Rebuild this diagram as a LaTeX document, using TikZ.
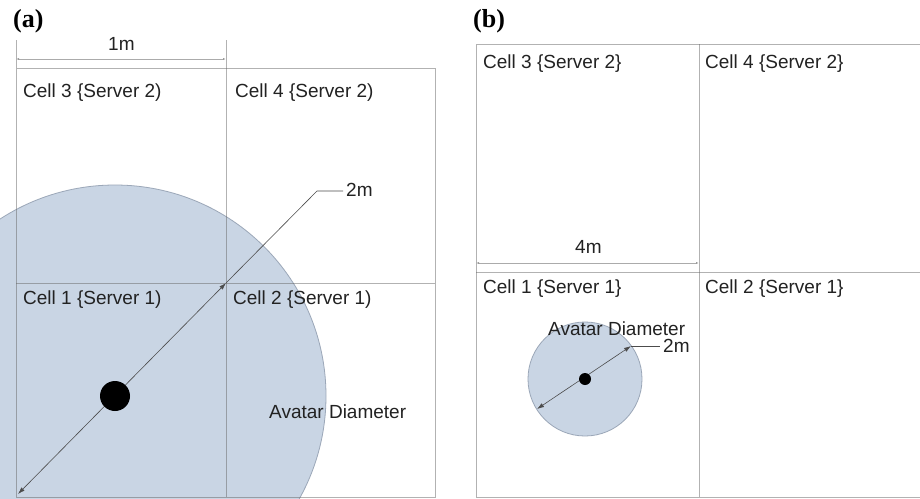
\documentclass[tikz,border=0pt]{standalone}
\usepackage{fontspec}
\setmainfont{Liberation Sans}
\newfontfamily\panelfont{Liberation Serif}
\usetikzlibrary{arrows.meta}
\definecolor{avfill}{HTML}{C9D5E4}
\definecolor{avedge}{HTML}{9BA7B8}
\definecolor{txt}{HTML}{222222}
\begin{document}
\begin{tikzpicture}[x=1pt,y=-1pt,
  grid/.style={draw=black!60, draw opacity=0.5, line width=0.9pt},
  dimline/.style={draw=black!60, draw opacity=0.55, line width=0.8pt, {Latex[length=3pt,width=2pt]}-{Latex[length=3pt,width=2pt]}},
  diam/.style={draw=black!70, line width=0.6pt, {Latex[length=7pt,width=4.5pt]}-{Latex[length=7pt,width=4.5pt]}},
  leader/.style={draw=black!70, line width=0.6pt},
  avatar/.style={fill=avfill, draw=avedge, line width=0.8pt},
  lbl/.style={anchor=base west, inner sep=0pt, text=txt, font=\fontsize{19}{22}\selectfont},
  panel/.style={anchor=base west, inner sep=0pt, text=black, font=\panelfont\bfseries\fontsize{26}{30}\selectfont}]
\useasboundingbox (0,0) rectangle (920,498);
\clip (0,0) rectangle (920,498);
\fill[white] (0,0) rectangle (920,498);

% ---------------- panel (a) ----------------
\node[panel] (pa) at (13,27) {(a)};
\draw[avatar] (115,396) circle[radius=211];
\draw[grid] (16,68) rectangle (435,497);
\draw[grid] (226,40) -- (226,497);
\draw[grid] (16,40) -- (16,68);
\draw[grid] (16,283) -- (435,283);
\coordinate (aL) at (16,59);
\coordinate (aR) at (226,59);
\draw[dimline] (aL) -- (aR);
\node[lbl] (a1m) at (108,50) {1m};
\node[lbl] (c3a) at (23,97) {Cell 3 \{Server 2)};
\node[lbl] (c4a) at (235,97) {Cell 4 \{Server 2)};
\node[lbl] (c1a) at (23,304) {Cell 1 \{Server 1)};
\node[lbl] (c2a) at (233,304) {Cell 2 \{Server 1)};
\coordinate (da1) at (18,494);
\coordinate (da2) at (226,283);
\coordinate (la1) at (317,191);
\coordinate (la2) at (343,191);
\draw[diam] (da1) -- (da2);
\draw[leader] (da2) -- (la1) -- (la2);
\fill[black] (115,396) circle[radius=15];
\node[lbl] (a2m) at (346,196) {2m};
\node[lbl] (ava) at (269,418) {Avatar Diameter};

% ---------------- panel (b) ----------------
\node[panel] (pb) at (473,27) {(b)};
\draw[grid] (476,44) rectangle (930,497);
\draw[grid] (699,44) -- (699,497);
\draw[grid] (476,272) -- (930,272);
\coordinate (bL) at (476,263);
\coordinate (bR) at (699,263);
\draw[dimline] (bL) -- (bR);
\node[lbl] (b4m) at (575,253) {4m};
\node[lbl] (c3b) at (483,68) {Cell 3 \{Server 2\}};
\node[lbl] (c4b) at (705,68) {Cell 4 \{Server 2\}};
\node[lbl] (c1b) at (483,293) {Cell 1 \{Server 1\}};
\node[lbl] (c2b) at (705,293) {Cell 2 \{Server 1\}};
\draw[avatar] (585,379) circle[radius=57];
\coordinate (db1) at (537,409);
\coordinate (db2) at (631,346);
\coordinate (lb1) at (660,346);
\draw[diam] (db1) -- (db2);
\draw[leader] (db2) -- (lb1);
\fill[black] (585,379) circle[radius=6];
\node[lbl] (avb) at (548,335) {Avatar Diameter};
\node[lbl] (b2m) at (663,352) {2m};
\end{tikzpicture}
\end{document}
